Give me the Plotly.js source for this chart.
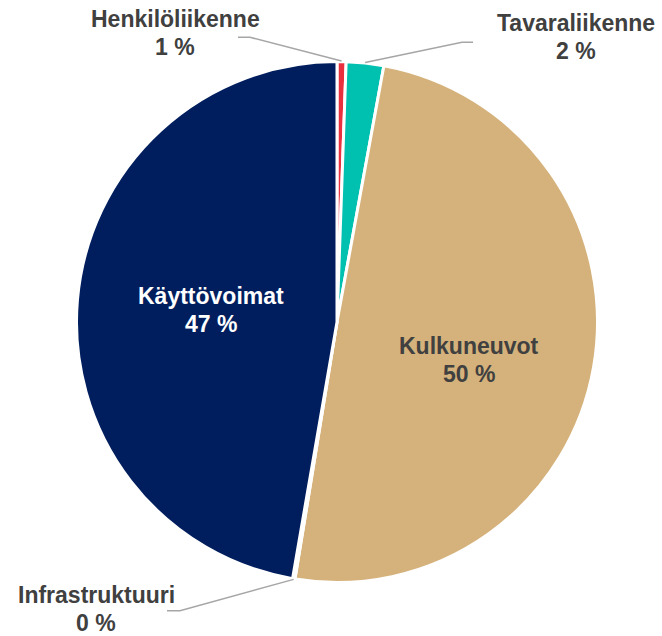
<!DOCTYPE html>
<html>
<head>
<meta charset="utf-8">
<script src="https://cdn.plot.ly/plotly-3.0.1.min.js"></script>
<style>html,body{margin:0;padding:0;background:#fff;}#chart{width:662px;height:636px;}</style>
</head>
<body>
<div id="chart"></div>
<script>
const labels = ['Henkilöliikenne', 'Tavaraliikenne', 'Kulkuneuvot', 'Infrastruktuuri', 'Käyttövoimat'];
const values = [0.56, 2.32, 49.7, 0.15, 47.27];
const colors = ['#E8303F', '#00C0B0', '#D5B27B', '#A5A5A5', '#001E5E'];

const W = 662, H = 636;
const px = x => x / W;
const py = y => 1 - y / H;

// pie geometry (pixels)
const cx = 337, cy = 322, R = 260.5;

const total = values.reduce((a, b) => a + b, 0);
function midAngle(i) {
  let s = 0;
  for (let k = 0; k < i; k++) s += values[k];
  return ((s + values[i] / 2) / total) * 2 * Math.PI; // clockwise from 12 o'clock
}
function edgePoint(i, r) {
  const a = midAngle(i);
  return [cx + r * Math.sin(a), cy - r * Math.cos(a)];
}
const pct = v => Math.round(v / total * 100) + ' %';

const trace = {
  type: 'pie',
  labels: labels,
  values: values,
  sort: false,
  direction: 'clockwise',
  rotation: 0,
  marker: {colors: colors, line: {color: '#FFFFFF', width: 3}},
  textinfo: 'none',
  hoverinfo: 'label+percent',
  showlegend: false,
  domain: {x: [px(cx - R), px(cx + R)], y: [py(cy + R), py(cy - R)]}
};

const font = {family: 'Liberation Sans, Arial, sans-serif', size: 23, weight: 'bold'};
const lineGap = 28.3;

// label placements (pixels) for each slice: block centre
const labelPos = [
  {x: 175, y: 33, color: '#404040'},
  {x: 576, y: 37, color: '#404040'},
  {x: 469, y: 360, color: '#404040'},
  {x: 96, y: 609, color: '#404040'},
  {x: 211, y: 310, color: '#FFFFFF'}
];

const annotations = [];
labels.forEach((l, i) => {
  const p = labelPos[i];
  [l, pct(values[i])].forEach((t, j) => {
    annotations.push({
      xref: 'paper', yref: 'paper',
      x: px(p.x), y: py(p.y + (j - 0.5) * lineGap),
      xanchor: 'center', yanchor: 'middle',
      text: t,
      showarrow: false,
      font: Object.assign({}, font, {color: p.color})
    });
  });
});

// leader lines for small slices: [slice index, elbow point, end point]
const leaders = [
  [0, [250, 37.3], [238, 37.3]],
  [1, [462, 42.3], [473, 42.3]],
  [3, [180, 610.7], [167, 610.7]]
];
const shapes = leaders.map(([i, e, f]) => {
  const p = edgePoint(i, R + 0.5);
  return {
    type: 'path', xref: 'paper', yref: 'paper',
    path: `M ${px(p[0])} ${py(p[1])} L ${px(e[0])} ${py(e[1])} L ${px(f[0])} ${py(f[1])}`,
    line: {color: '#A6A6A6', width: 1.5}
  };
});

Plotly.newPlot('chart', [trace], {
  width: W, height: H,
  margin: {l: 0, r: 0, t: 0, b: 0},
  paper_bgcolor: '#FFFFFF',
  annotations: annotations,
  shapes: shapes
}, {displayModeBar: false, staticPlot: true});
</script>
</body>
</html>
